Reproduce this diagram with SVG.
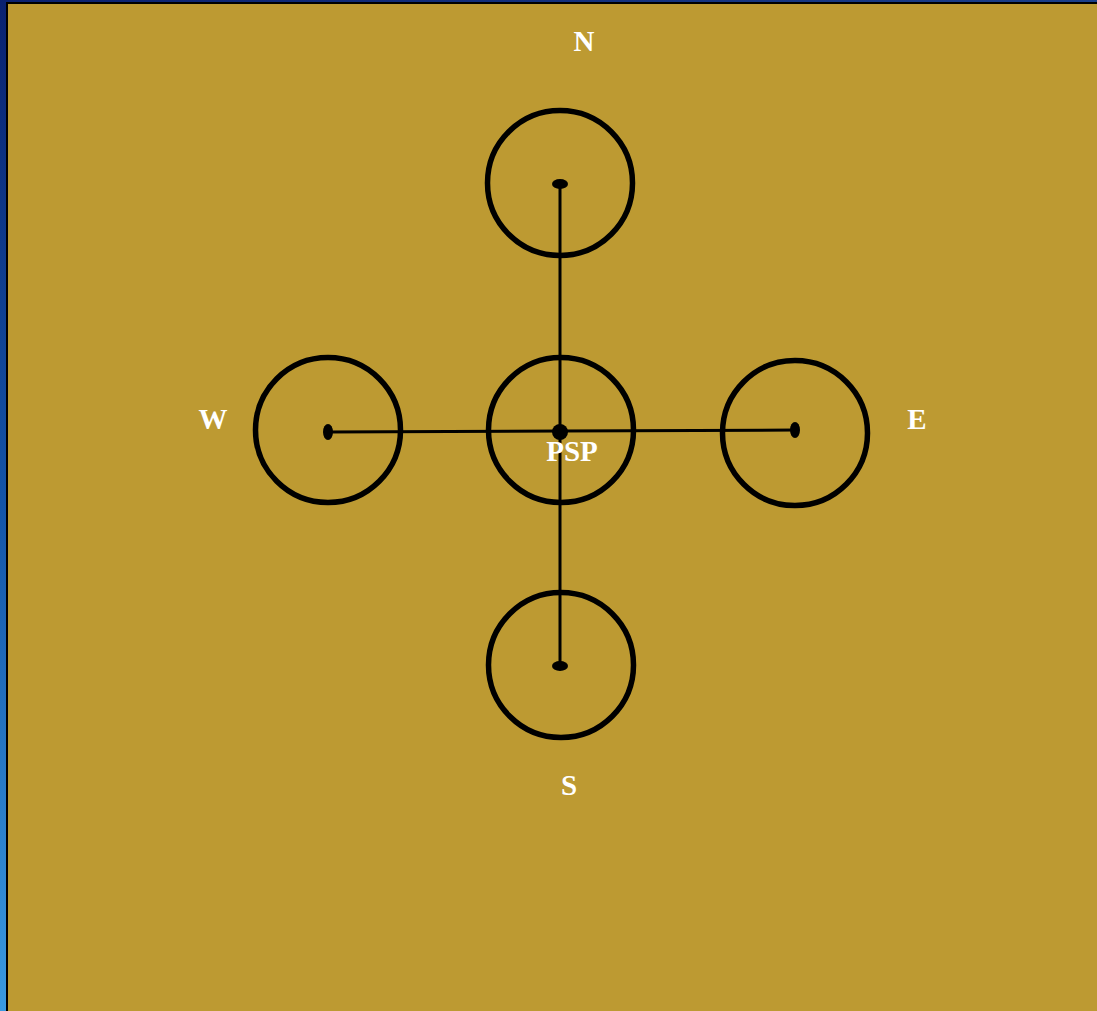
<svg xmlns="http://www.w3.org/2000/svg" width="1097" height="1011" viewBox="0 0 1097 1011">
<defs>
<linearGradient id="side" x1="0" y1="0" x2="0" y2="1">
<stop offset="0" stop-color="#0a2170"/>
<stop offset="0.5" stop-color="#1455a8"/>
<stop offset="1" stop-color="#3a9ae0"/>
</linearGradient>
<linearGradient id="top" x1="0" y1="0" x2="1" y2="0">
<stop offset="0" stop-color="#0a2170"/>
<stop offset="1" stop-color="#1a3f8a"/>
</linearGradient>
</defs>
<style>
.ring{fill:none;stroke:#000;stroke-width:5.5}
.lbl{font-family:"Liberation Serif",serif;font-weight:bold;font-size:29px;fill:#fff;text-anchor:middle}
.ln{stroke:#000;stroke-width:3;fill:none}
</style>
<rect x="0" y="0" width="1097" height="1011" fill="url(#side)"/>
<rect x="0" y="0" width="1097" height="3" fill="url(#top)"/>
<rect x="6" y="2" width="1091" height="1009" fill="#000"/>
<rect x="8" y="4" width="1089" height="1007" fill="#bd9a32"/>
<g id="connectors">
<line class="ln" x1="560" y1="184" x2="560" y2="666"/>
<polyline class="ln" points="328,432 560,431 795,430"/>
</g>
<g id="N"><circle class="ring" cx="560" cy="183" r="72.5"/><ellipse cx="560" cy="184" rx="8" ry="5"/><text class="lbl" x="584" y="51">N</text></g>
<g id="W"><circle class="ring" cx="328" cy="430" r="72.5"/><ellipse cx="328" cy="432" rx="5" ry="8"/><text class="lbl" x="213" y="429">W</text></g>
<g id="PSP"><circle class="ring" cx="561" cy="430" r="72.5"/><circle cx="560" cy="432" r="8"/><text class="lbl" x="572" y="461">PSP</text></g>
<g id="E"><circle class="ring" cx="795" cy="433" r="72.5"/><ellipse cx="795" cy="430" rx="5" ry="8"/><text class="lbl" x="917" y="429">E</text></g>
<g id="S"><circle class="ring" cx="561" cy="665" r="72.5"/><ellipse cx="560" cy="666" rx="8" ry="5"/><text class="lbl" x="569" y="795">S</text></g>
</svg>
